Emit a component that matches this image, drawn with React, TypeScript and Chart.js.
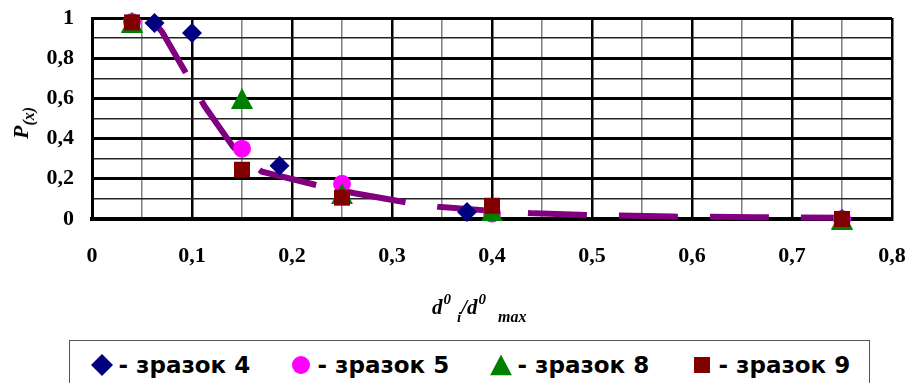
import React, { useEffect, useRef } from 'react';
import { Chart, registerables } from 'chart.js';

Chart.register(...registerables);

// Sample series (x = d0i/d0max, y = P(x))
const xS4 = [0.0625, 0.1, 0.1875, 0.375, 0.75];
const yS4 = [0.975, 0.925, 0.265, 0.035, 0.0];
const xS5 = [0.04, 0.15, 0.25, 0.4, 0.75];
const yS5 = [0.98, 0.35, 0.175, 0.027, 0.0];
const xS8 = [0.04, 0.15, 0.25, 0.4, 0.75];
const yS8 = [0.98, 0.6, 0.126, 0.04, 0.0];
const xS9 = [0.04, 0.15, 0.25, 0.4, 0.75];
const yS9 = [0.978, 0.245, 0.106, 0.066, 0.0];

// Dashed trend curve
const xTrend = [0.0625, 0.07, 0.096, 0.1125, 0.141, 0.15, 0.17, 0.231, 0.2625, 0.316, 0.346, 0.4125, 0.4425, 0.496, 0.58, 0.665, 0.75];
const yTrend = [0.975, 0.932, 0.708, 0.562, 0.36, 0.31, 0.235, 0.161, 0.128, 0.081, 0.061, 0.036, 0.028, 0.02, 0.012, 0.009, 0.006];

const legendLabels = ['- зразок 4', '- зразок 5', '- зразок 8', '- зразок 9'];
const NAVY = '#000080';
const MAGENTA = '#FF00FF';
const GREEN = '#008000';
const MAROON = '#800000';
const PURPLE = '#800080';

const fmt = (v: number) => {
  const r = Math.round(v * 10) / 10;
  return r === 0 ? '0' : String(r).replace('.', ',');
};

const zip = (xs: number[], ys: number[]) => xs.map((x, i) => ({ x, y: ys[i] }));

function makeTriangle(color: string, w: number, h: number) {
  const c = document.createElement('canvas');
  c.width = w;
  c.height = h;
  const g = c.getContext('2d')!;
  g.fillStyle = color;
  g.beginPath();
  g.moveTo(0, h);
  g.lineTo(w / 2, 0);
  g.lineTo(w, h);
  g.closePath();
  g.fill();
  return c;
}

const tickFont = { family: '"Liberation Serif", "Times New Roman", serif', weight: 'bold' as const, size: 22 };

export default function App() {
  const ref = useRef<HTMLCanvasElement | null>(null);

  useEffect(() => {
    if (!ref.current) return;
    const tri = makeTriangle(GREEN, 22, 21);
    const common = { showLine: false, clip: false as any, pointBorderWidth: 0 };
    const chart = new Chart(ref.current, {
      type: 'scatter',
      data: {
        datasets: [
          {
            label: 'trend',
            data: zip(xTrend, yTrend),
            showLine: true,
            borderColor: PURPLE,
            borderWidth: 6,
            borderDash: [59, 32],
            borderCapStyle: 'butt',
            pointRadius: 0,
            tension: 0,
            clip: false as any,
            order: 5,
          } as any,
          { ...common, label: legendLabels[0], data: zip(xS4, yS4), pointStyle: 'rectRot', pointRadius: 10, backgroundColor: NAVY, borderColor: NAVY, order: 4 },
          { ...common, label: legendLabels[1], data: zip(xS5, yS5), pointStyle: 'circle', pointRadius: 9, backgroundColor: MAGENTA, borderColor: MAGENTA, order: 3 },
          { ...common, label: legendLabels[2], data: zip(xS8, yS8), pointStyle: tri as any, pointRadius: 11, backgroundColor: GREEN, borderColor: GREEN, order: 2 },
          { ...common, label: legendLabels[3], data: zip(xS9, yS9), pointStyle: 'rect', pointRadius: 11.3, backgroundColor: MAROON, borderColor: MAROON, order: 1 },
        ],
      },
      options: {
        animation: false,
        responsive: false,
        events: [],
        layout: { padding: { top: 18, right: 19, left: 0, bottom: 0 } },
        plugins: { legend: { display: false }, tooltip: { enabled: false } },
        scales: {
          x: {
            type: 'linear',
            min: 0,
            max: 0.8,
            afterFit: (s: any) => { s.height = 164; s.paddingLeft = 0; s.paddingRight = 0; },
            ticks: {
              stepSize: 0.05,
              autoSkip: false,
              maxRotation: 0,
              padding: 24,
              color: '#000',
              font: tickFont,
              callback: (v: any) => (Math.round(Number(v) * 100) % 10 === 0 ? fmt(Number(v)) : ''),
            },
            grid: {
              drawTicks: false,
              color: (c: any) => (Math.round(c.tick.value * 100) % 10 === 0 ? '#000' : '#808080'),
              lineWidth: (c: any) => (Math.round(c.tick.value * 100) % 10 === 0 ? 2.5 : 1.5),
            },
            border: { color: '#000', width: 4 },
          },
          y: {
            type: 'linear',
            min: 0,
            max: 1,
            afterFit: (s: any) => { s.width = 92; s.paddingTop = 0; s.paddingBottom = 0; },
            ticks: {
              stepSize: 0.1,
              autoSkip: false,
              padding: 18,
              color: '#000',
              font: tickFont,
              callback: (v: any) => (Math.round(Number(v) * 10) % 2 === 0 ? fmt(Number(v)) : ''),
            },
            grid: {
              drawTicks: false,
              color: (c: any) => (Math.round(c.tick.value * 10) % 2 === 0 ? '#000' : '#222'),
              lineWidth: (c: any) => (Math.round(c.tick.value * 10) % 2 === 0 ? 3 : 1.5),
            },
            border: { color: '#000', width: 3 },
          },
        },
      } as any,
    });
    return () => chart.destroy();
  }, []);

  const serif = '"Liberation Serif", "Times New Roman", serif';
  const legendX = [101.5, 300.5, 500.5, 701.5];

  const marker = (i: number) => {
    if (i === 0)
      return (
        <svg width="22" height="22" viewBox="0 0 22 22"><polygon points="11,0 22,11 11,22 0,11" fill={NAVY} /></svg>
      );
    if (i === 1)
      return (
        <svg width="18" height="18" viewBox="0 0 18 18"><circle cx="9" cy="9" r="9" fill={MAGENTA} /></svg>
      );
    if (i === 2)
      return (
        <svg width="22" height="21" viewBox="0 0 22 21"><polygon points="0,21 11,0 22,21" fill={GREEN} /></svg>
      );
    return (
      <svg width="16" height="16" viewBox="0 0 16 16"><rect x="0" y="0" width="16" height="16" fill={MAROON} /></svg>
    );
  };

  const supStyle = { fontSize: 15, position: 'relative' as const, top: -10, marginLeft: 1 };
  const subStyle = { fontSize: 16, position: 'relative' as const, top: 8 };

  return (
    <div style={{ position: 'absolute', left: 0, top: 0, width: 911, height: 383, overflow: 'hidden', background: '#fff' }}>
      <canvas ref={ref} width={911} height={383} style={{ position: 'absolute', left: 0, top: 0 }} />
      {/* y-axis title */}
      <div
        style={{
          position: 'absolute', left: 22, top: 123, transform: 'translate(-50%, -50%) rotate(-90deg)',
          whiteSpace: 'nowrap', fontFamily: serif, fontWeight: 'bold', fontStyle: 'italic', fontSize: 22, lineHeight: '22px',
        }}
      >
        P<span style={{ fontSize: 16, position: 'relative', top: 6 }}>(x)</span>
      </div>
      {/* x-axis title */}
      <div
        style={{
          position: 'absolute', left: 432, top: 297, whiteSpace: 'nowrap', fontFamily: serif, fontWeight: 'bold',
          fontStyle: 'italic', fontSize: 21, lineHeight: '21px',
        }}
      >
        d<span style={supStyle}>0</span>
        <span style={{ ...subStyle, fontSize: 15, marginLeft: 6 }}>i</span>/d
        <span style={supStyle}>0</span>
        <span style={{ ...subStyle, marginLeft: 12 }}>max</span>
      </div>
      {/* legend */}
      <div
        style={{
          position: 'absolute', left: 69, top: 340, width: 801, height: 60, boxSizing: 'border-box',
          border: '1.5px solid #555', background: '#fff',
        }}
      />
      {legendLabels.map((t, i) => (
        <div key={i}>
          <div style={{ position: 'absolute', left: legendX[i], top: 365, transform: 'translate(-50%, -50%)', lineHeight: 0 }}>
            {marker(i)}
          </div>
          <div
            style={{
              position: 'absolute', left: legendX[i] + 17, top: 365, transform: 'translateY(-50%)', whiteSpace: 'nowrap',
              fontFamily: '"DejaVu Sans", sans-serif', fontWeight: 'bold', fontSize: 23, lineHeight: '25px', color: '#000',
            }}
          >
            {t}
          </div>
        </div>
      ))}
    </div>
  );
}
